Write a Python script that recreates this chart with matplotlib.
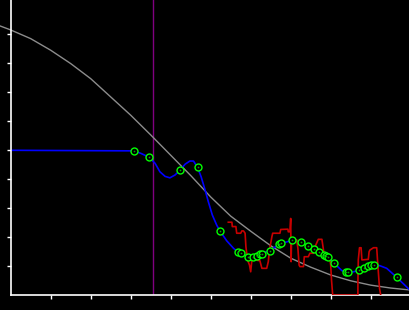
import matplotlib
matplotlib.use('Agg')
import matplotlib.pyplot as plt

# smooth reference curve (gray)
ref_x = [-0.27, 0, 0.5, 1, 1.5, 2, 2.5, 3, 3.5, 4, 4.5, 5, 5.5, 6, 6.5, 7, 7.5, 8, 8.5, 9, 9.5, 10]
ref_y = [9.28, 9.14, 8.84, 8.44, 7.98, 7.46, 6.83, 6.20, 5.52, 4.82, 4.12, 3.38, 2.72, 2.20,
         1.70, 1.27, 0.96, 0.69, 0.49, 0.34, 0.24, 0.17]

# fitted curve (blue)
fit_x = [0, 3.09, 3.26, 3.46, 3.61, 3.73, 3.86, 3.98, 4.11, 4.23, 4.36, 4.48, 4.57, 4.67, 4.76,
         4.86, 4.94, 5.04, 5.15, 5.23, 5.40, 5.57, 5.69, 5.94, 6.05, 6.15, 6.29, 6.48, 6.71,
         7.04, 7.26, 7.44, 7.57, 7.71, 7.82, 7.93, 8.09, 8.28, 8.40, 8.57, 8.72, 8.84, 9.07,
         9.23, 9.40, 9.65, 9.98]
fit_y = [4.99, 4.97, 4.88, 4.75, 4.54, 4.25, 4.09, 4.04, 4.14, 4.30, 4.51, 4.62, 4.62, 4.40, 4.08,
         3.62, 3.22, 2.76, 2.41, 2.21, 1.87, 1.61, 1.47, 1.32, 1.32, 1.38, 1.44, 1.53, 1.75,
         1.89, 1.82, 1.69, 1.58, 1.47, 1.38, 1.30, 1.09, 0.84, 0.78, 0.80, 0.86, 0.93, 1.03,
         1.01, 0.92, 0.61, 0.17]

# observations (green circles)
obs_x = [3.09, 3.46, 4.23, 4.67, 5.23, 5.69, 5.75, 5.94, 6.05, 6.15, 6.23, 6.28, 6.48, 6.71,
         6.76, 7.04, 7.26, 7.44, 7.57, 7.71, 7.82, 7.87, 7.92, 8.09, 8.39, 8.43, 8.71, 8.84,
         8.94, 9.01, 9.07, 9.65]
obs_y = [4.97, 4.75, 4.30, 4.40, 2.21, 1.47, 1.44, 1.32, 1.32, 1.36, 1.40, 1.43, 1.53, 1.75,
         1.78, 1.89, 1.82, 1.68, 1.58, 1.48, 1.38, 1.33, 1.31, 1.09, 0.79, 0.79, 0.86, 0.93,
         0.99, 1.02, 1.03, 0.61]

# raw signal (red)
raw_x = [5.44, 5.53, 5.54, 5.63, 5.65, 5.75, 5.78, 5.82, 5.86, 5.88, 5.92, 5.97, 6.00, 6.03,
         6.11, 6.23, 6.28, 6.40, 6.44, 6.47, 6.53, 6.55, 6.73, 6.75, 6.93, 6.94, 6.98, 7.00,
         7.01, 7.02, 7.07, 7.15, 7.18, 7.21, 7.23, 7.32, 7.34, 7.44, 7.48, 7.57, 7.61, 7.69,
         7.78, 7.82, 7.84, 7.94, 7.98, 8.00, 8.02, 8.05, 8.68, 8.68, 8.69, 8.72, 8.76, 8.78,
         8.94, 8.96, 8.98, 9.07, 9.15, 9.17, 9.22, 9.25]
raw_y = [2.51, 2.51, 2.36, 2.36, 2.13, 2.13, 2.21, 2.21, 2.13, 1.67, 1.21, 1.03, 0.80, 1.21,
         1.21, 1.18, 0.92, 0.92, 1.15, 1.55, 2.01, 2.13, 2.13, 2.26, 2.27, 2.18, 2.18, 2.64,
         1.15, 1.84, 1.90, 1.90, 1.61, 1.03, 0.98, 0.98, 1.32, 1.32, 1.44, 1.44, 1.67, 1.92,
         1.92, 1.55, 1.27, 1.27, 1.23, 1.03, 0.52, 0.0, 0.0, 0.46, 1.21, 1.63, 1.63, 1.21,
         1.23, 1.49, 1.55, 1.63, 1.63, 1.21, 0.23, 0.0]

marker_x = 3.565

fig = plt.figure(figsize=(4.1, 3.1), dpi=100, facecolor='black')
ax = fig.add_axes([10.7 / 410, 15 / 310, 400 / 410, 10.2 * 29 / 310])
ax.set_facecolor('black')

ax.plot(ref_x, ref_y, color='#8c8c8c', lw=1.0, clip_on=False, zorder=2)
ax.axvline(marker_x, color='#800080', lw=1.0, zorder=1)
ax.plot(fit_x, fit_y, color='#0000ff', lw=1.2, zorder=2)
ax.plot(raw_x, raw_y, color='#c80000', lw=1.2, zorder=3)
ax.plot(obs_x, obs_y, 'o', ms=5, mfc='black', mec='#00ff00', mew=1.0, zorder=4)
ax.plot(obs_x, obs_y, 'o', ms=1.2, color='#00aa00', mew=0, zorder=5)

ax.set_xlim(0, 10)
ax.set_ylim(0, 10.2)
ax.set_xticks(range(1, 10))
ax.set_yticks(range(1, 10))
ax.tick_params(colors='white', length=3, width=1, labelleft=False, labelbottom=False)
for side in ['top', 'right']:
    ax.spines[side].set_visible(False)
for side in ['left', 'bottom']:
    ax.spines[side].set_color('white')
    ax.spines[side].set_linewidth(1.2)

fig.savefig('out.png', dpi=100, facecolor='black')
